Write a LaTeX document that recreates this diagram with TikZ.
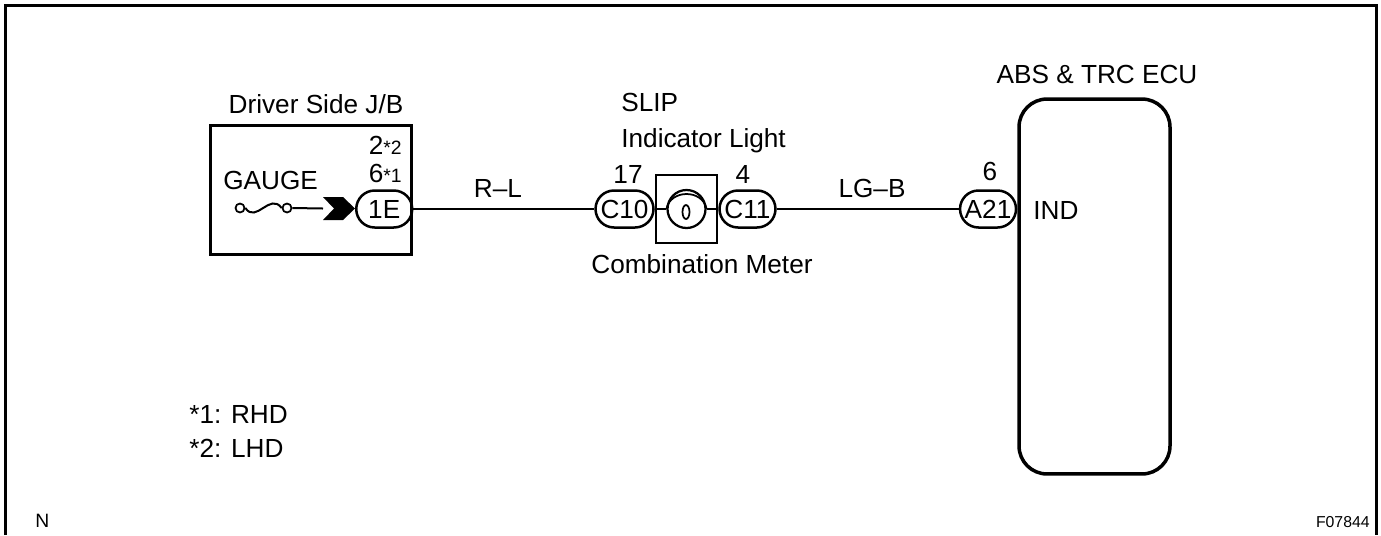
\documentclass[tikz,border=0pt]{standalone}
\usepackage{fontspec}
\setmainfont{Liberation Sans}
\usetikzlibrary{positioning,shapes.misc}

\newcommand{\smallmark}[1]{{\fontsize{11}{13}\selectfont *#1}}

\begin{document}
\begin{tikzpicture}[x=0.02cm,y=-0.02cm,
            every node/.style={font=\fontsize{14.9}{17}\selectfont,inner sep=0pt},
            wire/.style={line width=0.04cm},
            box/.style={draw,rectangle,line width=0.06cm},
            pin/.style={draw,rounded rectangle,line width=0.05cm,minimum height=0.74cm,minimum width=1.12cm,inner sep=0pt},
            fuseend/.style={draw,circle,line width=0.035cm,minimum size=0.18cm,inner sep=0pt},
            lab/.style={anchor=base},
            note/.style={anchor=base west}
          ]
          \useasboundingbox (0,0) rectangle (1381,535);
          %frame
          \draw[line width=0.06cm] (5.5,535) -- (5.5,5.5) -- (1376.5,5.5) -- (1376.5,535);

          %junction block
          \node[box,minimum width=4.04cm,minimum height=2.6cm] (jb) at (311,190) {};
          \node[pin,anchor=east] (p1E) at (jb.east |- 0,209) {1E};
          \node[fuseend] (f1) at (240,208) {};
          \node[fuseend] (f2) at (287,208) {};
          \coordinate (arr) at (323,208.5);
          \draw[wire] (f1.east) .. controls (256,224) and (270,192) .. (f2.west);
          \draw[wire] (f2.east) -- (arr);
          \fill (arr) ++(0,-11.5) -- ++(20,0) -- ++(12,11.5) -- ++(-12,11.5) -- ++(-20,0) -- ++(11,-11.5) -- cycle;

          %combination meter
          \node[box,line width=0.05cm,minimum width=1.22cm,minimum height=1.36cm] (meter) at (686.5,209) {};
          \node[draw,circle,line width=0.045cm,minimum size=0.76cm] (lamp) at (meter.center) {};
          \node[pin,minimum width=1.16cm,left=0pt of meter] (c10) {C10};
          \node[pin,right=0pt of meter] (c11) {C11};
          \draw[wire] (meter.west) -- (lamp.west);
          \draw[wire] (lamp.east) -- (meter.east);
          \draw[line width=0.035cm] (lamp.west) .. controls +(4,-20) and +(-4,-20) .. (lamp.east);
          \draw[line width=0.035cm] (686,212) ellipse [x radius=0.07cm,y radius=0.14cm];

          %ecu
          \node[draw,rectangle,rounded corners=0.56cm,line width=0.07cm,minimum width=3.02cm,minimum height=7.5cm] (ecu) at (1094.5,286.5) {};
          \node[pin,anchor=east] (a21) at (ecu.west |- 0,209) {A21};

          %wires
          \draw[wire] (p1E.east) -- (c10.west);
          \draw[wire] (c11.east) -- (a21.west);

          %labels
          \node[lab] at (316,113) {Driver Side J/B};
          \node[lab,anchor=base east] at (402,154) {2\smallmark{2}};
          \node[lab,anchor=base east] at (402,182) {6\smallmark{1}};
          \node[note] at (223,189) {GAUGE};
          \node[lab] at (498,197) {R--L};
          \node[note] at (621,111) {SLIP};
          \node[note] at (621,147) {Indicator Light};
          \node[lab] at (628,183) {17};
          \node[lab] at (743,183) {4};
          \node[lab] at (702,273) {Combination Meter};
          \node[lab] at (872,197) {LG--B};
          \node[lab] at (990,180) {6};
          \node[lab] at (1097,83) {ABS \& TRC ECU};
          \node[note] at (1033,219) {IND};
          \node[note] at (189,423) {*1: RHD};
          \node[note] at (189,457) {*2: LHD};
          \node[note,font=\fontsize{11}{13}\selectfont] at (35,527) {N};
          \node[lab,anchor=base east,font=\fontsize{9}{11}\selectfont] at (1370,527) {F07844};
      \end{tikzpicture}
\end{document}
